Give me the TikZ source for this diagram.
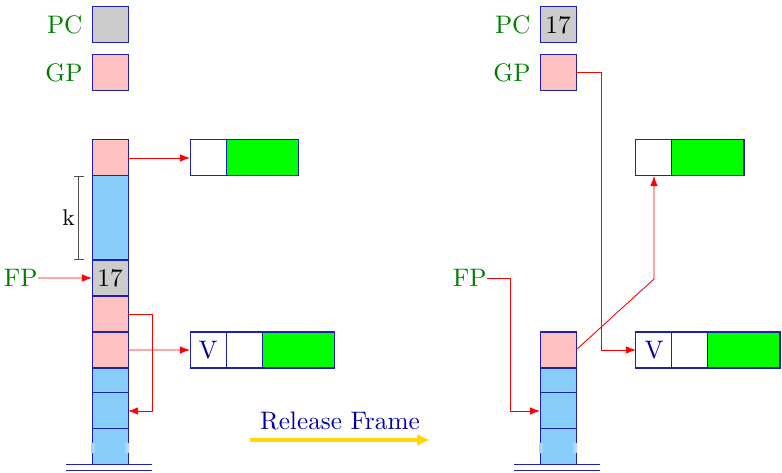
\documentclass[tikz,border=0pt]{standalone}
\usepackage{tikz}
\usetikzlibrary{arrows.meta,positioning}
\definecolor{cellpink}{RGB}{255,192,192}
\definecolor{cellblue}{RGB}{135,206,250}
\definecolor{cellgray}{RGB}{204,204,204}
\definecolor{cellgreen}{RGB}{0,255,0}
\definecolor{cellline}{RGB}{32,32,176}
\definecolor{labelgreen}{RGB}{0,128,0}
\definecolor{textblue}{RGB}{0,0,160}
\definecolor{arrowgold}{RGB}{255,215,0}
\begin{document}
\begin{tikzpicture}[
  cell/.style={draw=cellline, minimum width=0.5cm, minimum height=0.5cm, inner sep=0pt, outer sep=0pt},
  wide/.style={cell, fill=cellgreen, minimum width=1cm},
  reg/.style={text=labelgreen, inner sep=0pt},
  ptr/.style={red, line width=0.35pt, -{Latex[length=4pt,width=3pt]}},
  kbar/.style={gray!60!black, {Bar[width=4pt]}-{Bar[width=4pt]}}
]
\useasboundingbox (0,0) rectangle (10.861,6.569);

% before
\node[cell, fill=cellgray] (lpc) at (1.528,6.222) {};
\node[cell, fill=cellpink] (lgp) at (1.528,5.556) {};
\node[reg, left=0.125cm of lpc] (lpcL) {PC};
\node[reg, left=0.125cm of lgp] (lgpL) {GP};

\node[cell, fill=cellpink] (l1) at (1.528,4.375) {};
\node[cell, fill=cellblue, minimum height=1.167cm, below=0pt of l1] (l2) {};
\node[cell, fill=cellgray, below=0pt of l2] (l3) {17};
\node[cell, fill=cellpink, below=0pt of l3] (l4) {};
\node[cell, fill=cellpink, below=0pt of l4] (l5) {};
\node[cell, fill=cellblue, minimum height=0.347cm, below=0pt of l5] (l6) {};
\node[cell, fill=cellblue, below=0pt of l6] (l7) {};
\node[cell, fill=cellblue, below=0pt of l7] (l8) {};

\node[cell] (lp) at (2.889,4.375) {};
\node[wide, right=0pt of lp] (lpg) {};
\node[cell, text=textblue] (lv) at (2.889,1.708) {V};
\node[cell, right=0pt of lv] (lvw) {};
\node[wide, right=0pt of lvw] (lvg) {};

\node[reg, anchor=east] (lfp) at (0.528,2.708) {FP};
\coordinate (ktop) at ([xshift=-0.181cm]l2.north west);
\coordinate (kbot) at ([xshift=-0.181cm]l2.south west);
\draw[kbar] (ktop) -- node[left=0pt, inner sep=1.5pt, text=black]{\small k} (kbot);

\draw[ptr] (l1.east) -- (lp.west);
\draw[ptr] (l5.east) -- (lv.west);
\draw[ptr] (l4.east) -- ++(0.333,0) |- (l7.east);
\draw[ptr] (lfp.east) -- (l3.west);

% release
\node[text=textblue] (rel) at (4.722,0.722) {Release Frame};
\coordinate (relA) at (3.472,0.458);
\coordinate (relB) at (5.972,0.458);
\draw[arrowgold, line width=1.5pt, -{Latex[length=5pt,width=5pt]}] (relA) -- (relB);

% after
\node[cell, fill=cellgray] (rpc) at (7.75,6.222) {17};
\node[cell, fill=cellpink] (rgp) at (7.75,5.556) {};
\node[reg, left=0.125cm of rpc] (rpcL) {PC};
\node[reg, left=0.125cm of rgp] (rgpL) {GP};

\node[cell, fill=cellpink] (r1) at (7.75,1.708) {};
\node[cell, fill=cellblue, minimum height=0.347cm, below=0pt of r1] (r2) {};
\node[cell, fill=cellblue, below=0pt of r2] (r3) {};
\node[cell, fill=cellblue, below=0pt of r3] (r4) {};

\node[cell] (rp) at (9.083,4.375) {};
\node[wide, right=0pt of rp] (rpg) {};
\node[cell, text=textblue] (rv) at (9.083,1.708) {V};
\node[cell, right=0pt of rv] (rvw) {};
\node[wide, right=0pt of rvw] (rvg) {};

\node[reg, anchor=east] (rfp) at (6.764,2.708) {FP};
\coordinate (rbend) at (9.083,2.694);

\draw[ptr] (rgp.east) -- ++(0.347,0) |- (rv.west);
\draw[ptr] (r1.east) -- (rbend) -- (rp.south);
\draw[ptr] (rfp.east) -- ++(0.319,0) |- (r3.west);

% stack bottoms
\foreach \c in {l8,r4} {
  \fill[cellblue!70!white] ([xshift=-0.4pt,yshift=-0.194cm]\c.north west) rectangle ([xshift=1pt,yshift=-0.333cm]\c.north west);
  \fill[cellblue!70!white] ([xshift=0.4pt,yshift=-0.194cm]\c.north east) rectangle ([xshift=-1pt,yshift=-0.333cm]\c.north east);
  \draw[cellline] ([xshift=-0.361cm]\c.south west) -- ([xshift=0.333cm]\c.south east);
  \draw[cellline] ([xshift=-0.361cm,yshift=-0.083cm]\c.south west) -- ([xshift=0.333cm,yshift=-0.083cm]\c.south east);
}
\end{tikzpicture}
\end{document}
